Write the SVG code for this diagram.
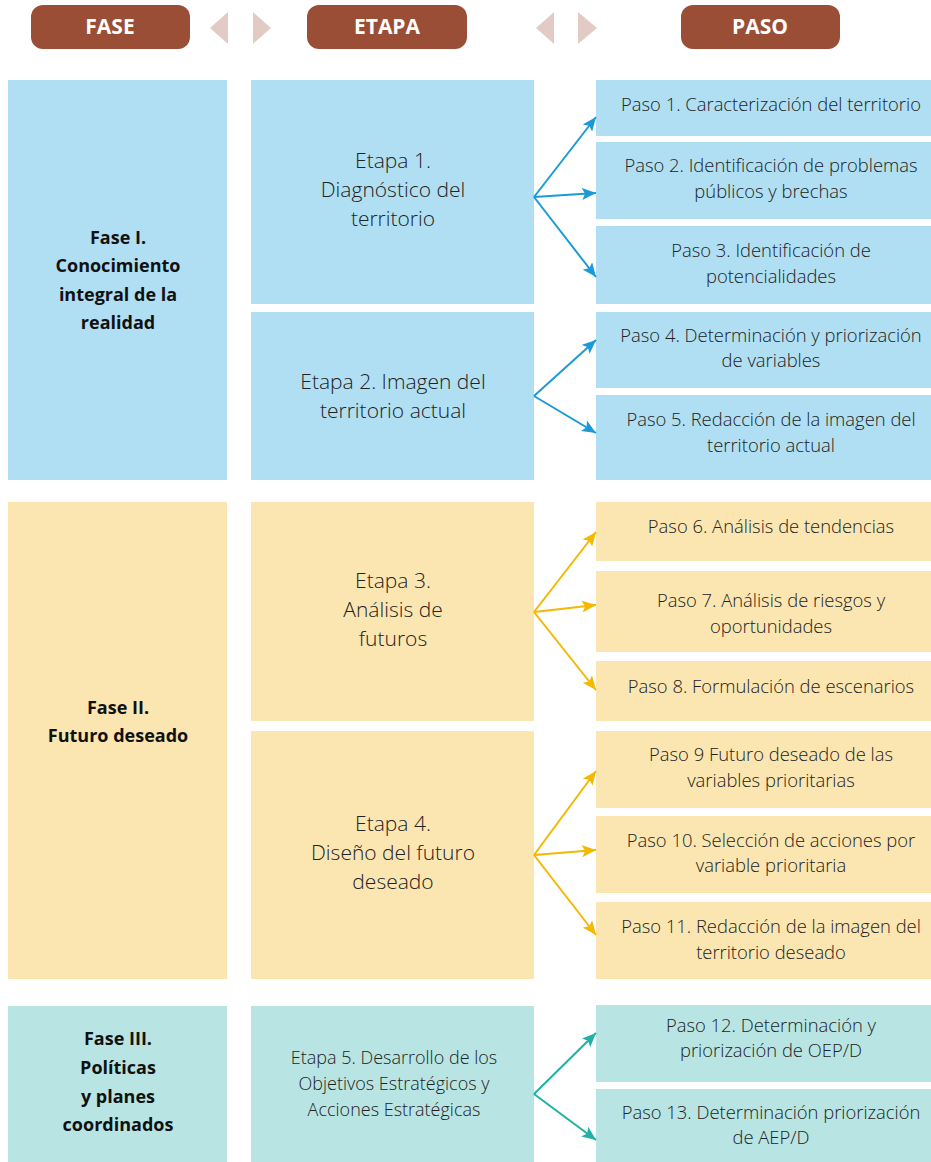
<svg xmlns="http://www.w3.org/2000/svg" width="931" height="1162" viewBox="0 0 931 1162">
<style>
.hdr{fill:#9A4E36}
.hdrt{fill:#fff;font-family:"Open Sans","Liberation Sans",sans-serif;font-weight:700;font-size:21px;text-anchor:middle}
.tri{fill:#E2CBC4}
.b{fill:#B0DFF3}.y{fill:#FBE6B1}.t{fill:#B8E5E3}
.fase{font-family:"Open Sans","Liberation Sans",sans-serif;font-weight:700;font-size:18px;fill:#111;text-anchor:middle}
.etapa{font-family:"Open Sans","Liberation Sans",sans-serif;font-weight:300;font-size:21px;fill:#222;text-anchor:middle}
.etapa5{font-family:"Open Sans","Liberation Sans",sans-serif;font-weight:300;font-size:18px;fill:#222;text-anchor:middle}
.paso{font-family:"Open Sans","Liberation Sans",sans-serif;font-weight:300;font-size:18.4px;fill:#222;text-anchor:middle}
.ab{stroke:#1A9BD7;stroke-width:2;fill:none}
.ay{stroke:#F4B800;stroke-width:2;fill:none}
.at{stroke:#1EB2A6;stroke-width:2;fill:none}
</style>
<defs>
<marker id="mb" markerUnits="userSpaceOnUse" markerWidth="14" markerHeight="12" refX="14" refY="6" orient="auto"><path d="M0,0 L14,6 L0,12 L3,6 Z" fill="#1A9BD7"/></marker>
<marker id="my" markerUnits="userSpaceOnUse" markerWidth="14" markerHeight="12" refX="14" refY="6" orient="auto"><path d="M0,0 L14,6 L0,12 L3,6 Z" fill="#F4B800"/></marker>
<marker id="mt" markerUnits="userSpaceOnUse" markerWidth="14" markerHeight="12" refX="14" refY="6" orient="auto"><path d="M0,0 L14,6 L0,12 L3,6 Z" fill="#1EB2A6"/></marker>
</defs>
<g id="header">
<g id="h-fase"><rect class="hdr" x="31" y="5" width="159" height="44" rx="12"/><text class="hdrt" x="110" y="34">FASE</text></g>
<polygon class="tri" points="228,12 228,44 210,28"/>
<polygon class="tri" points="253,12 253,44 271,28"/>
<g id="h-etapa"><rect class="hdr" x="307" y="5" width="160" height="44" rx="12"/><text class="hdrt" x="387" y="34">ETAPA</text></g>
<polygon class="tri" points="554,12 554,44 536,28"/>
<polygon class="tri" points="578,12 578,44 597,28"/>
<g id="h-paso"><rect class="hdr" x="681" y="5" width="159" height="44" rx="12"/><text class="hdrt" x="760" y="34">PASO</text></g>
</g>
<g id="fase1"><rect class="b" x="8" y="80" width="219" height="400"/>
<text class="fase"><tspan x="118" y="244">Fase I.</tspan><tspan x="118" y="272">Conocimiento</tspan><tspan x="118" y="301">integral de la</tspan><tspan x="118" y="329">realidad</tspan></text></g>
<g id="fase2"><rect class="y" x="8" y="502" width="219" height="477"/>
<text class="fase"><tspan x="118" y="714">Fase II.</tspan><tspan x="118" y="742">Futuro deseado</tspan></text></g>
<g id="fase3"><rect class="t" x="8" y="1006" width="219" height="156"/>
<text class="fase"><tspan x="118" y="1045">Fase III.</tspan><tspan x="118" y="1074">Políticas</tspan><tspan x="118" y="1103">y planes</tspan><tspan x="118" y="1131">coordinados</tspan></text></g>

<g id="etapa1"><rect class="b" x="251" y="80" width="283" height="224"/>
<text class="etapa"><tspan x="393" y="168">Etapa 1.</tspan><tspan x="393" y="197">Diagnóstico del</tspan><tspan x="393" y="226">territorio</tspan></text></g>
<g id="etapa2"><rect class="b" x="251" y="312" width="283" height="168"/>
<text class="etapa"><tspan x="393" y="389">Etapa 2. Imagen del</tspan><tspan x="393" y="418">territorio actual</tspan></text></g>
<g id="etapa3"><rect class="y" x="251" y="502" width="283" height="219"/>
<text class="etapa"><tspan x="393" y="588">Etapa 3.</tspan><tspan x="393" y="617">Análisis de</tspan><tspan x="393" y="646">futuros</tspan></text></g>
<g id="etapa4"><rect class="y" x="251" y="731" width="283" height="248"/>
<text class="etapa"><tspan x="393" y="831">Etapa 4.</tspan><tspan x="393" y="860">Diseño del futuro</tspan><tspan x="393" y="889">deseado</tspan></text></g>
<g id="etapa5"><rect class="t" x="251" y="1006" width="283" height="156"/>
<text class="etapa5"><tspan x="394" y="1064">Etapa 5. Desarrollo de los</tspan><tspan x="394" y="1090">Objetivos Estratégicos y</tspan><tspan x="394" y="1116">Acciones Estratégicas</tspan></text></g>

<g id="paso1"><rect class="b" x="596" y="80" width="335" height="56"/><text class="paso"><tspan x="771" y="111">Paso 1. Caracterización del territorio</tspan></text></g>
<g id="paso2"><rect class="b" x="596" y="142" width="335" height="77"/><text class="paso"><tspan x="771" y="172">Paso 2. Identificación de problemas</tspan><tspan x="771" y="198">públicos y brechas</tspan></text></g>
<g id="paso3"><rect class="b" x="596" y="226" width="335" height="78"/><text class="paso"><tspan x="771" y="257">Paso 3. Identificación de</tspan><tspan x="771" y="283">potencialidades</tspan></text></g>
<g id="paso4"><rect class="b" x="596" y="312" width="335" height="76"/><text class="paso"><tspan x="771" y="342">Paso 4. Determinación y priorización</tspan><tspan x="771" y="367">de variables</tspan></text></g>
<g id="paso5"><rect class="b" x="596" y="395" width="335" height="85"/><text class="paso"><tspan x="771" y="426">Paso 5. Redacción de la imagen del</tspan><tspan x="771" y="452">territorio actual</tspan></text></g>
<g id="paso6"><rect class="y" x="596" y="502" width="335" height="59"/><text class="paso"><tspan x="771" y="533">Paso 6. Análisis de tendencias</tspan></text></g>
<g id="paso7"><rect class="y" x="596" y="571" width="335" height="81"/><text class="paso"><tspan x="771" y="607">Paso 7. Análisis de riesgos y</tspan><tspan x="771" y="633">oportunidades</tspan></text></g>
<g id="paso8"><rect class="y" x="596" y="661" width="335" height="60"/><text class="paso"><tspan x="771" y="693">Paso 8. Formulación de escenarios</tspan></text></g>
<g id="paso9"><rect class="y" x="596" y="731" width="335" height="77"/><text class="paso"><tspan x="771" y="761">Paso 9 Futuro deseado de las</tspan><tspan x="771" y="787">variables prioritarias</tspan></text></g>
<g id="paso10"><rect class="y" x="596" y="816" width="335" height="77"/><text class="paso"><tspan x="771" y="847">Paso 10. Selección de acciones por</tspan><tspan x="771" y="872">variable prioritaria</tspan></text></g>
<g id="paso11"><rect class="y" x="596" y="902" width="335" height="77"/><text class="paso"><tspan x="771" y="933">Paso 11. Redacción de la imagen del</tspan><tspan x="771" y="959">territorio deseado</tspan></text></g>
<g id="paso12"><rect class="t" x="596" y="1005" width="335" height="77"/><text class="paso"><tspan x="771" y="1032">Paso 12. Determinación y</tspan><tspan x="771" y="1057">priorización de OEP/D</tspan></text></g>
<g id="paso13"><rect class="t" x="596" y="1089" width="335" height="73"/><text class="paso"><tspan x="771" y="1119">Paso 13. Determinación priorización</tspan><tspan x="771" y="1144">de AEP/D</tspan></text></g>

<g id="connectors">
<path class="ab" marker-end="url(#mb)" d="M534,197 L596,117"/>
<path class="ab" marker-end="url(#mb)" d="M534,197 L596,193"/>
<path class="ab" marker-end="url(#mb)" d="M534,197 L596,277"/>
<path class="ab" marker-end="url(#mb)" d="M534,396 L596,340"/>
<path class="ab" marker-end="url(#mb)" d="M534,396 L596,433"/>
<path class="ay" marker-end="url(#my)" d="M534,612 L596,532"/>
<path class="ay" marker-end="url(#my)" d="M534,612 L596,605"/>
<path class="ay" marker-end="url(#my)" d="M534,612 L596,690"/>
<path class="ay" marker-end="url(#my)" d="M534,855 L596,771"/>
<path class="ay" marker-end="url(#my)" d="M534,855 L596,850"/>
<path class="ay" marker-end="url(#my)" d="M534,855 L596,935"/>
<path class="at" marker-end="url(#mt)" d="M534,1094 L596,1033"/>
<path class="at" marker-end="url(#mt)" d="M534,1094 L596,1140"/>
</g>
</svg>
